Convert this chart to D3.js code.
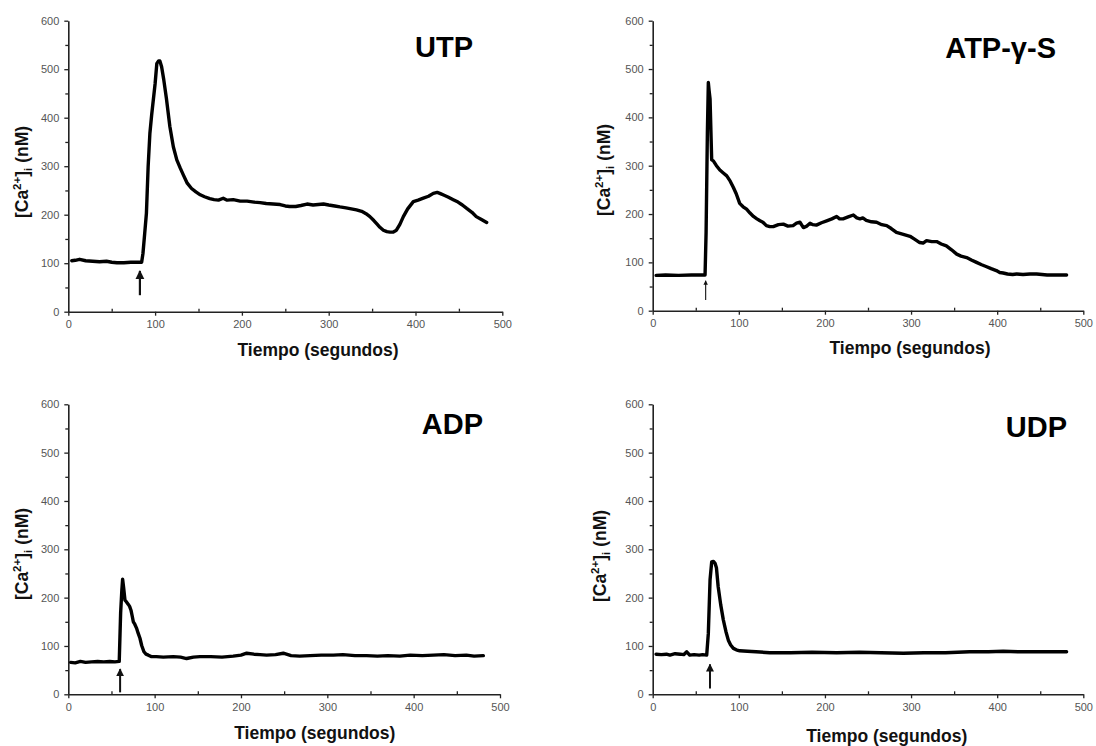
<!DOCTYPE html>
<html><head><meta charset="utf-8">
<script src="https://cdn.jsdelivr.net/npm/d3@7"></script>
<style>
body{margin:0;background:#fff;}
svg{display:block;font-family:"Liberation Sans",Arial,Helvetica,sans-serif;}
</style></head>
<body>
<svg id="chart" width="1096" height="746"></svg>
<script>
// ---------- DATA ----------
const panelTitles = ["UTP", "ATP-\u03B3-S", "ADP", "UDP"];
const xTickValues = [0, 100, 200, 300, 400, 500];
const yTickValues = [0, 100, 200, 300, 400, 500, 600];
const xMinorTicks = [50, 150, 250, 350, 450];
const yMinorTicks = [50, 150, 250, 350, 450, 550];
const xAxisTitle = "Tiempo (segundos)";

const utpTime = [4, 8, 13, 20, 28, 36, 44, 50, 56, 64, 72, 80, 84.5, 86, 88, 90, 92, 94, 96, 100, 102, 104, 105.5, 107.5, 110, 113, 117, 121, 125, 129, 132.5, 137, 142, 147, 152, 157, 163, 168, 173, 178.5, 183, 190, 198, 206, 214, 221, 228, 236, 244, 250, 255, 262, 268, 275, 282, 288, 294, 300, 307, 313, 320, 326, 332, 338, 343, 347.5, 352, 356, 359, 363, 367, 370.6, 374, 378, 382, 386, 391, 397.5, 403, 409, 415, 420.5, 425, 428, 433, 438, 443.5, 449, 454, 459, 465, 470, 476, 482];
const utpCa = [105, 106, 108, 105, 104, 103, 104, 102, 101, 101, 102, 102, 102, 120, 161, 203, 300, 368, 405, 470, 512, 517, 517, 505, 478, 440, 382, 340, 313, 296, 282, 265, 254, 247, 241, 237, 233, 231, 230, 234, 230, 231, 228, 228, 226, 225, 223, 222, 221, 218, 217, 217, 219, 222, 220, 221, 222, 220, 218, 216, 214, 212, 210, 207, 202, 196, 188, 180, 174, 168, 165, 164, 164, 168, 180, 196, 212, 227, 230, 234, 238, 244, 246, 244, 240, 236, 231, 226, 220, 213, 205, 196, 190, 184];

const atpTime = [4, 15, 30, 45, 55, 60.8, 62, 63.5, 64.6, 65.5, 66.6, 68.5, 70.4, 74, 78, 82, 86, 90, 93.7, 97, 101, 105, 109, 113, 117, 121, 124.6, 128, 132, 136, 140, 146, 151.7, 157, 163, 167, 171, 175, 179, 182.7, 186, 190, 196, 202, 208, 213.6, 217, 221, 227, 233, 237, 240.7, 244, 248, 254, 260, 266, 271.7, 277, 283, 291, 298.8, 304, 310, 314, 318, 324, 329.7, 335, 341, 347, 353, 358, 364.5, 370, 376, 382, 387.8, 393, 399, 403, 407, 412, 418, 422.6, 430, 438, 445.8, 452, 458, 465, 472, 480.6];
const atpCa = [73, 74, 73, 74, 74, 74, 162, 369, 472, 455, 438, 312, 310, 300, 291, 285, 279, 268, 255, 242, 222, 215, 210, 202, 195, 190, 186, 183, 176, 174, 174, 178, 179, 175, 176, 181, 183, 172, 175, 181, 178, 177, 182, 186, 190, 195, 190, 190, 194, 198, 192, 190, 192, 187, 184, 183, 178, 176, 170, 162, 158, 154, 148, 141, 140, 145, 143, 143, 138, 134, 126, 117, 113, 110, 105, 100, 95, 91, 87, 83, 79, 78, 76, 75, 76, 75, 76, 76, 75, 74, 74, 74, 74];

const adpTime = [2.7, 8, 14, 20, 27, 34, 41, 48, 54, 59, 60.6, 62, 62.9, 64, 65.6, 67, 69.5, 71, 72.6, 74, 75.3, 77, 79, 81, 83, 85, 87.6, 90, 92.7, 96, 102, 110, 121.6, 130, 137, 145, 152.5, 165, 178, 191, 200, 206.6, 215, 222, 229.7, 240, 249, 258, 268, 280, 293, 307, 318, 332, 345.5, 358, 370, 384, 396, 410, 422.8, 435, 448, 461, 470, 480.7];
const adpCa = [66, 65, 68, 66, 67, 68, 67, 68, 67, 68, 168, 215, 238, 222, 195, 192, 186, 182, 174, 162, 150, 145, 137, 126, 116, 101, 88, 83, 81, 78, 78, 77, 78, 77, 74, 77, 78, 78, 77, 79, 81, 85, 83, 82, 81, 82, 85, 80, 79, 80, 81, 81, 82, 80, 80, 79, 80, 79, 81, 80, 81, 82, 80, 81, 79, 80];

const udpTime = [3.9, 10, 16, 20, 26, 32, 36, 39.5, 43, 48, 54, 58, 62.7, 64.6, 66.6, 68.5, 70.5, 72.4, 74, 76, 79, 82, 85, 87.8, 90.5, 93.7, 97, 101, 110, 120, 136, 160, 185, 213.6, 240, 265, 291, 315, 340, 368, 390, 407, 425, 446, 465, 480.6];
const udpCa = [83, 82, 83, 81, 84, 83, 82, 88, 81, 82, 81, 82, 81, 126, 237, 274, 275, 271, 262, 223, 185, 154, 130, 112, 102, 95, 92, 90, 89, 88, 86, 86, 87, 86, 87, 86, 85, 86, 86, 88, 88, 89, 88, 88, 88, 88];

// stimulus arrows: time, tail value, tip value
const arrowTime = [82.5, 61.5, 60, 66.5];
const arrowTail = [34, 22, 4, 12];
const arrowTip = [84, 62, 52, 62];

// ---------- LAYOUT ----------
const layouts = [
  {x0: 68.3, x1: 502.3, y0: 311.7, y1: 20.7, tx: 473, ty: 57, lx: 287.7, ly: 356, ylx: 22, yly: 172, aw: 2.2},
  {x0: 652.7, x1: 1083.3, y0: 310.7, y1: 20.7, tx: 1056, ty: 58, lx: 298.8, ly: 354, ylx: 604, yly: 170, aw: 1.1},
  {x0: 68.3, x1: 500, y0: 694.3, y1: 404.3, tx: 483, ty: 434, lx: 285.5, ly: 739, ylx: 22, yly: 554, aw: 2.0},
  {x0: 652.7, x1: 1083.3, y0: 694.3, y1: 404.3, tx: 1067, ty: 437, lx: 271.8, ly: 742, ylx: 600, yly: 556, aw: 2.0}
];
const seriesT = [utpTime, atpTime, adpTime, udpTime];
const seriesV = [utpCa, atpCa, adpCa, udpCa];

const svg = d3.select("#chart");
const defs = svg.append("defs");
defs.append("marker").attr("id", "ah").attr("viewBox", "0 0 10 10")
  .attr("refX", 9).attr("refY", 5).attr("markerWidth", 4).attr("markerHeight", 5)
  .attr("markerUnits", "strokeWidth").attr("orient", "auto")
  .append("path").attr("d", "M0,0 L10,5 L0,10 Z").attr("fill", "#111");

layouts.forEach((L, i) => {
  const x = d3.scaleLinear().domain([0, 500]).range([L.x0, L.x1]);
  const y = d3.scaleLinear().domain([0, 600]).range([L.y0, L.y1]);
  const g = svg.append("g");

  // minor ticks
  g.append("g").attr("transform", `translate(0,${L.y0})`)
    .call(d3.axisBottom(x).tickValues(xMinorTicks).tickSize(-3).tickFormat(""))
    .call(a => a.select(".domain").remove())
    .call(a => a.selectAll("line").attr("stroke", "#222").attr("stroke-width", 1.3));
  g.append("g").attr("transform", `translate(${L.x0},0)`)
    .call(d3.axisLeft(y).tickValues(yMinorTicks).tickSize(3).tickFormat(""))
    .call(a => a.select(".domain").remove())
    .call(a => a.selectAll("line").attr("stroke", "#222").attr("stroke-width", 1.3));

  // major axes
  const xa = g.append("g").attr("transform", `translate(0,${L.y0})`)
    .call(d3.axisBottom(x).tickValues(xTickValues).tickSize(4).tickSizeOuter(0).tickPadding(5));
  const ya = g.append("g").attr("transform", `translate(${L.x0},0)`)
    .call(d3.axisLeft(y).tickValues(yTickValues).tickSize(4).tickSizeOuter(0).tickPadding(5));
  [xa, ya].forEach(a => {
    a.select(".domain").attr("stroke", "#222").attr("stroke-width", 1.6);
    a.selectAll(".tick line").attr("stroke", "#222").attr("stroke-width", 1.3);
    a.selectAll(".tick text").attr("fill", "#555").attr("font-size", 11)
      .attr("font-family", "'Liberation Sans',Arial,sans-serif");
  });

  // curve
  const pts = seriesT[i].map((t, k) => [t, seriesV[i][k]]);
  g.append("path").datum(pts)
    .attr("d", d3.line().x(d => x(d[0])).y(d => y(d[1])))
    .attr("fill", "none").attr("stroke", "#000").attr("stroke-width", 3.4)
    .attr("stroke-linejoin", "round").attr("stroke-linecap", "round");

  // arrow
  g.append("line")
    .attr("x1", x(arrowTime[i])).attr("x2", x(arrowTime[i]))
    .attr("y1", y(arrowTail[i])).attr("y2", y(arrowTip[i]))
    .attr("stroke", "#111").attr("stroke-width", L.aw).attr("marker-end", "url(#ah)");

  // title
  g.append("text").attr("x", L.tx).attr("y", L.ty).attr("text-anchor", "end")
    .attr("font-size", 29).attr("font-weight", "bold").attr("fill", "#000")
    .text(panelTitles[i]);

  // x axis title
  g.append("text").attr("x", x(L.lx)).attr("y", L.ly).attr("text-anchor", "middle")
    .attr("font-size", 17.5).attr("font-weight", "bold").attr("fill", "#111")
    .text(xAxisTitle);

  // y axis title
  const yt = g.append("text")
    .attr("transform", `translate(${L.ylx + 6},${L.yly}) rotate(-90)`)
    .attr("text-anchor", "middle").attr("font-size", 17.5).attr("font-weight", "bold").attr("fill", "#111");
  yt.append("tspan").text("[Ca");
  yt.append("tspan").attr("font-size", 11.5).attr("dy", -7).text("2+");
  yt.append("tspan").attr("dy", 7).text("]");
  yt.append("tspan").attr("font-size", 11.5).attr("dy", 4).text("i");
  yt.append("tspan").attr("dy", -4).text(" (nM)");
});
</script>
</body></html>
